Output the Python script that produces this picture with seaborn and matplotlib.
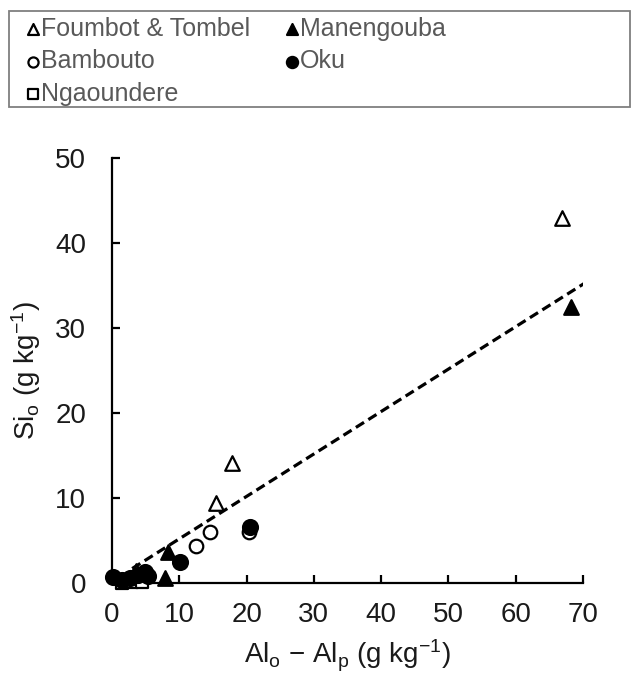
import matplotlib
matplotlib.use("Agg")
import matplotlib.pyplot as plt
from matplotlib.patches import Rectangle
import seaborn as sns
import pandas as pd

# ---------------- data ----------------
foumbot_x = [66.9, 17.8, 15.5, 3.6]
foumbot_y = [42.9, 14.1, 9.4, 1.4]

manengouba_x = [68.2, 8.3, 7.9, 4.2]
manengouba_y = [32.5, 3.7, 0.6, 0.8]

bambouto_x = [12.5, 14.6, 20.4, 3.0]
bambouto_y = [4.3, 6.0, 6.0, 0.5]

ngaoundere_x = [1.5, 3.0, 4.5]
ngaoundere_y = [0.05, 0.1, 0.1]

oku_x = [20.5, 10.1, 0.2, 1.5, 2.7, 3.9, 4.9, 5.3]
oku_y = [6.6, 2.5, 0.7, 0.35, 0.6, 0.9, 1.3, 0.8]

trend_x = [3.0, 70.3]
trend_y = [1.7, 35.3]

x_ticks = [0, 10, 20, 30, 40, 50, 60, 70]
y_ticks = [0, 10, 20, 30, 40, 50]

legend_order = ["Foumbot & Tombel", "Bambouto", "Ngaoundere", "Manengouba", "Oku"]

# ---------------- style ----------------
sns.set_style("ticks")
plt.rcParams["font.family"] = ["Liberation Sans", "DejaVu Sans"]
plt.rcParams["mathtext.fontset"] = "custom"
plt.rcParams["mathtext.rm"] = "Liberation Sans"
plt.rcParams["mathtext.it"] = "Liberation Sans:italic"
plt.rcParams["mathtext.bf"] = "Liberation Sans:bold"

W, H = 638, 676
fig = plt.figure(figsize=(W / 100, H / 100), dpi=100)
ax = fig.add_axes([112 / W, 1 - 583 / H, 471 / W, 425 / H])

series = [
    ("Foumbot & Tombel", foumbot_x, foumbot_y, "^", "white", 110),
    ("Manengouba", manengouba_x, manengouba_y, "^", "black", 110),
    ("Bambouto", bambouto_x, bambouto_y, "o", "white", 95),
    ("Ngaoundere", ngaoundere_x, ngaoundere_y, "s", "white", 80),
    ("Oku", oku_x, oku_y, "o", "black", 115),
]

for i, (name, xs, ys, mk, fc, s) in enumerate(series):
    df = pd.DataFrame({"x": xs, "y": ys})
    sns.scatterplot(data=df, x="x", y="y", ax=ax, marker=mk, s=s,
                    facecolor=fc, edgecolor="black", linewidth=1.6,
                    label=name, clip_on=False, zorder=3 + i)

trend = pd.DataFrame({"x": trend_x, "y": trend_y})
sns.lineplot(data=trend, x="x", y="y", ax=ax, color="black", lw=2.3,
             linestyle=(0, (3, 1.6)), zorder=10)

ax.set_xlim(0, 70)
ax.set_ylim(0, 50)
ax.set_xticks(x_ticks)
ax.set_yticks(y_ticks)
sns.despine(ax=ax)
for sp in ["left", "bottom"]:
    ax.spines[sp].set_linewidth(1.6)
    ax.spines[sp].set_color("black")

ax.tick_params(axis="both", direction="in", length=6, width=1.6,
               labelsize=20, labelcolor="#1a1a1a", color="black")
ax.tick_params(axis="x", pad=13.5)
ax.tick_params(axis="y", pad=18.5)

ax.set_xlabel(r"Al$_\mathrm{o}$ − Al$_\mathrm{p}$ (g kg$^{-1}$)", fontsize=20, color="#1a1a1a")
ax.set_ylabel(r"Si$_\mathrm{o}$ (g kg$^{-1}$)", fontsize=20, color="#1a1a1a")
ax.xaxis.set_label_coords(0.5, -0.13)
ax.yaxis.set_label_coords(-0.147, 0.5)

handles, labels = ax.get_legend_handles_labels()
lookup = dict(zip(labels, handles))
if ax.get_legend() is not None:
    ax.get_legend().remove()
leg = fig.legend([lookup[k] for k in legend_order], legend_order,
                 loc="upper left", bbox_to_anchor=(28 / W, 1 - 17 / H),
                 ncol=2, frameon=False, fontsize=18, markerscale=0.75,
                 handlelength=0.4, handletextpad=0.12, columnspacing=1.48,
                 labelspacing=0.34, borderpad=0, borderaxespad=0)
for t in leg.get_texts():
    t.set_color("#595959")

fig.patches.append(Rectangle((9 / W, 1 - 107 / H), 621 / W, 96 / H,
                             transform=fig.transFigure, fill=False,
                             edgecolor="#7f7f7f", linewidth=1.3))

fig.savefig("out.png", dpi=100)
